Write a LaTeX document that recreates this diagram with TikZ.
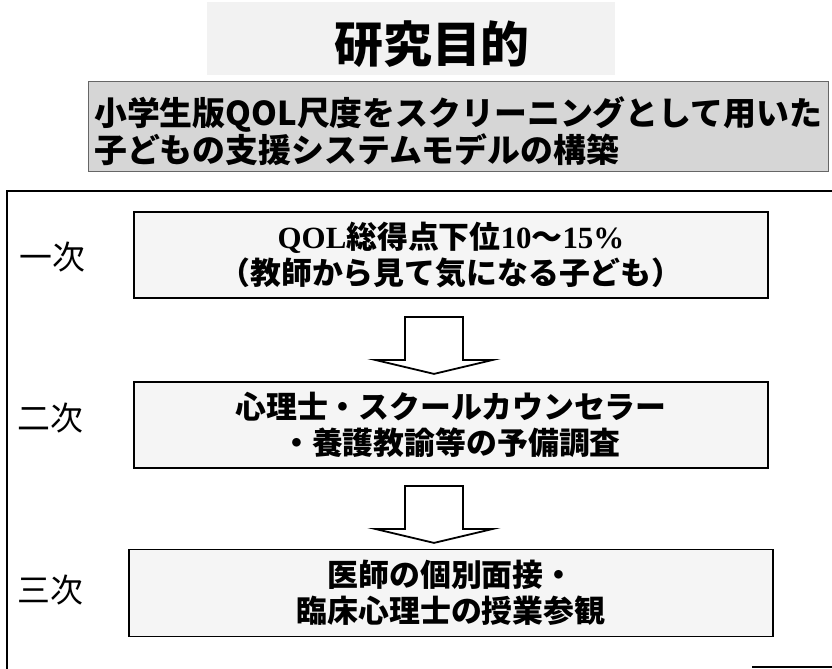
\documentclass[tikz,border=0pt]{standalone}
\usepackage{fontspec}
\newfontfamily\jp{Noto Sans CJK JP}
\newfontfamily\jpserif{Liberation Serif}
\usetikzlibrary{calc}
\tikzset{
  stagebox/.style={draw=black, line width=1.8bp, fill=black!4, minimum width=634bp, minimum height=86bp, inner sep=0pt, align=center, font=\jp\bfseries\fontsize{31}{36}\selectfont},
  stagelabel/.style={inner sep=0pt, font=\jp\fontsize{33}{36}\selectfont},
  frameline/.style={line width=1.8bp, black},
  blockarrow/.pic={\draw[line width=1.8bp, fill=white, line join=miter] (-29,0) -- (-29,43) -- (-59,43) -- (0,57) -- (59,43) -- (29,43) -- (29,0) -- cycle;}
}
\begin{document}
\begin{tikzpicture}[x=1bp,y=-1bp]
\useasboundingbox (0,0) rectangle (832,669);
% title
\fill[black!5] (207,2) rectangle (615,75);
\node[inner sep=0pt, font=\jp\bfseries\fontsize{49}{52}\selectfont] (title) at (432,44) {研究目的};
% subtitle
\node[draw=black!60, line width=0.8bp, fill=black!16, minimum width=740bp, minimum height=90bp, anchor=north west] (subbox) at (88,81) {};
\node[inner sep=0pt, anchor=west, align=left, font=\jp\bfseries\fontsize{33}{37}\selectfont] (subtext) at (94,131) {小学生版QOL尺度をスクリーニングとして用いた\\子どもの支援システムモデルの構築};
% outer frame
\coordinate (fTL) at (7,191);
\coordinate (fTR) at (832,191);
\coordinate (fBL) at (7,669);
\coordinate (fB1) at (752,667);
\coordinate (fB2) at (832,667);
\draw[frameline] (fTR) -- (fTL) -- (fBL);
\draw[frameline] (fB1) -- (fB2);
% stage boxes
\node[stagebox] (b1) at (451,255) {{\jpserif\bfseries QOL}総得点下位{\jpserif\bfseries 10}〜{\jpserif\bfseries 15\%}\\（教師から見て気になる子ども）};
\node[stagebox] (b2) at (451,425) {心理士・スクールカウンセラー\\・養護教諭等の予備調査};
\node[stagebox, minimum width=644bp, minimum height=87bp] (b3) at (451,593) {医師の個別面接・\\臨床心理士の授業参観};
% labels
\node[stagelabel] (l1) at (52,257) {一次};
\node[stagelabel] (l2) at (50,418) {二次};
\node[stagelabel] (l3) at (50,590) {三次};
% arrows
\path (b1.south) ++(-17,18) pic {blockarrow};
\path (b2.south) ++(-17,17) pic {blockarrow};
\end{tikzpicture}
\end{document}
